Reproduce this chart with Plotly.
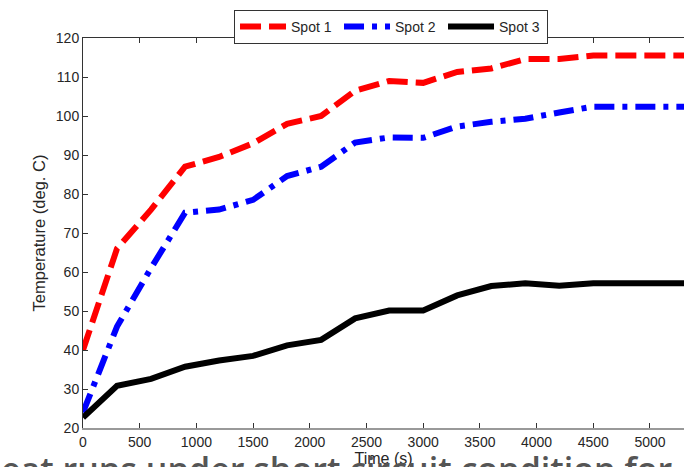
import plotly.graph_objects as go

time_s = [0, 300, 600, 900, 1200, 1500, 1800, 2100, 2400, 2700, 3000, 3300, 3600, 3900, 4200, 4500, 4800, 5100, 5400]
spot1 = [40, 66, 76, 87, 89.5, 93, 98, 100, 106.5, 109, 108.5, 111.3, 112.2, 114.6, 114.6, 115.5, 115.5, 115.5, 115.5]
spot2 = [24, 46, 61, 75.2, 76, 78.5, 84.6, 87, 93.2, 94.5, 94.4, 97.3, 98.5, 99.3, 100.9, 102.4, 102.4, 102.4, 102.4]
spot3 = [22.7, 30.8, 32.6, 35.7, 37.3, 38.5, 41.2, 42.6, 48.1, 50.1, 50.1, 54, 56.4, 57.1, 56.5, 57.1, 57.1, 57.1, 57.1]
series_names = ["Spot 1", "Spot 2", "Spot 3"]
x_ticks = [0, 500, 1000, 1500, 2000, 2500, 3000, 3500, 4000, 4500, 5000]
y_ticks = [20, 30, 40, 50, 60, 70, 80, 90, 100, 110, 120]

FONT = "Liberation Sans, Arial, sans-serif"

fig = go.Figure()
fig.add_trace(go.Scatter(x=time_s, y=spot1, name=series_names[0], mode="lines",
                         line=dict(color="#ff0000", width=6, dash="21px,8px")))
fig.add_trace(go.Scatter(x=time_s, y=spot2, name=series_names[1], mode="lines",
                         line=dict(color="#0000ff", width=6, dash="20px,8px,5px,8px")))
fig.add_trace(go.Scatter(x=time_s, y=spot3, name=series_names[2], mode="lines",
                         line=dict(color="#000000", width=6)))
# invisible trace to hold the top mirror axis
fig.add_trace(go.Scatter(x=[0], y=[20], xaxis="x2", mode="markers",
                         marker=dict(opacity=0), showlegend=False, hoverinfo="skip"))

fig.update_layout(
    width=684, height=467,
    margin=dict(l=83, r=0, t=38, b=39, autoexpand=False),
    paper_bgcolor="white", plot_bgcolor="white",
    font=dict(family=FONT, size=14, color="#262626"),
    showlegend=True,
    legend=dict(orientation="h", x=0.5125, xanchor="center", y=1.072, yanchor="top",
                bordercolor="#333333", borderwidth=1, bgcolor="white",
                font=dict(size=14, color="#262626"), itemwidth=46, entrywidth=43,
                entrywidthmode="pixels", tracegroupgap=0),
    xaxis=dict(range=[0, 5300], tickvals=x_ticks, ticks="inside", ticklen=5,
               tickcolor="#333333", showline=True, linecolor="#999999", linewidth=2,
               showgrid=False, zeroline=False, automargin=False,
               title=dict(text="Time (s)", font=dict(size=16), standoff=4),
               tickfont=dict(size=14)),
    xaxis2=dict(range=[0, 5300], overlaying="x", side="top", tickvals=x_ticks,
                ticks="inside", ticklen=5, tickcolor="#333333", showticklabels=False,
                showline=True, linecolor="#333333", linewidth=1, showgrid=False,
                zeroline=False, automargin=False),
    yaxis=dict(range=[20, 120], tickvals=y_ticks, ticks="inside", ticklen=5,
               tickcolor="#333333", showline=True, linecolor="#333333", linewidth=1,
               showgrid=False, zeroline=False, automargin=False,
               title=dict(text="Temperature (deg. C)", font=dict(size=16.5), standoff=6),
               tickfont=dict(size=14)),
)

fig.add_annotation(text="eat runs under short circuit condition for",
                   xref="paper", yref="paper", x=-0.14, y=-0.042,
                   xanchor="left", yanchor="top", showarrow=False,
                   font=dict(family="Open Sans, Noto Sans, sans-serif", size=34,
                             color="#555555", weight=600))

fig.write_html("out.html", config={"displayModeBar": False},
               post_script="document.body.style.margin='0';document.body.style.overflow='hidden';")
